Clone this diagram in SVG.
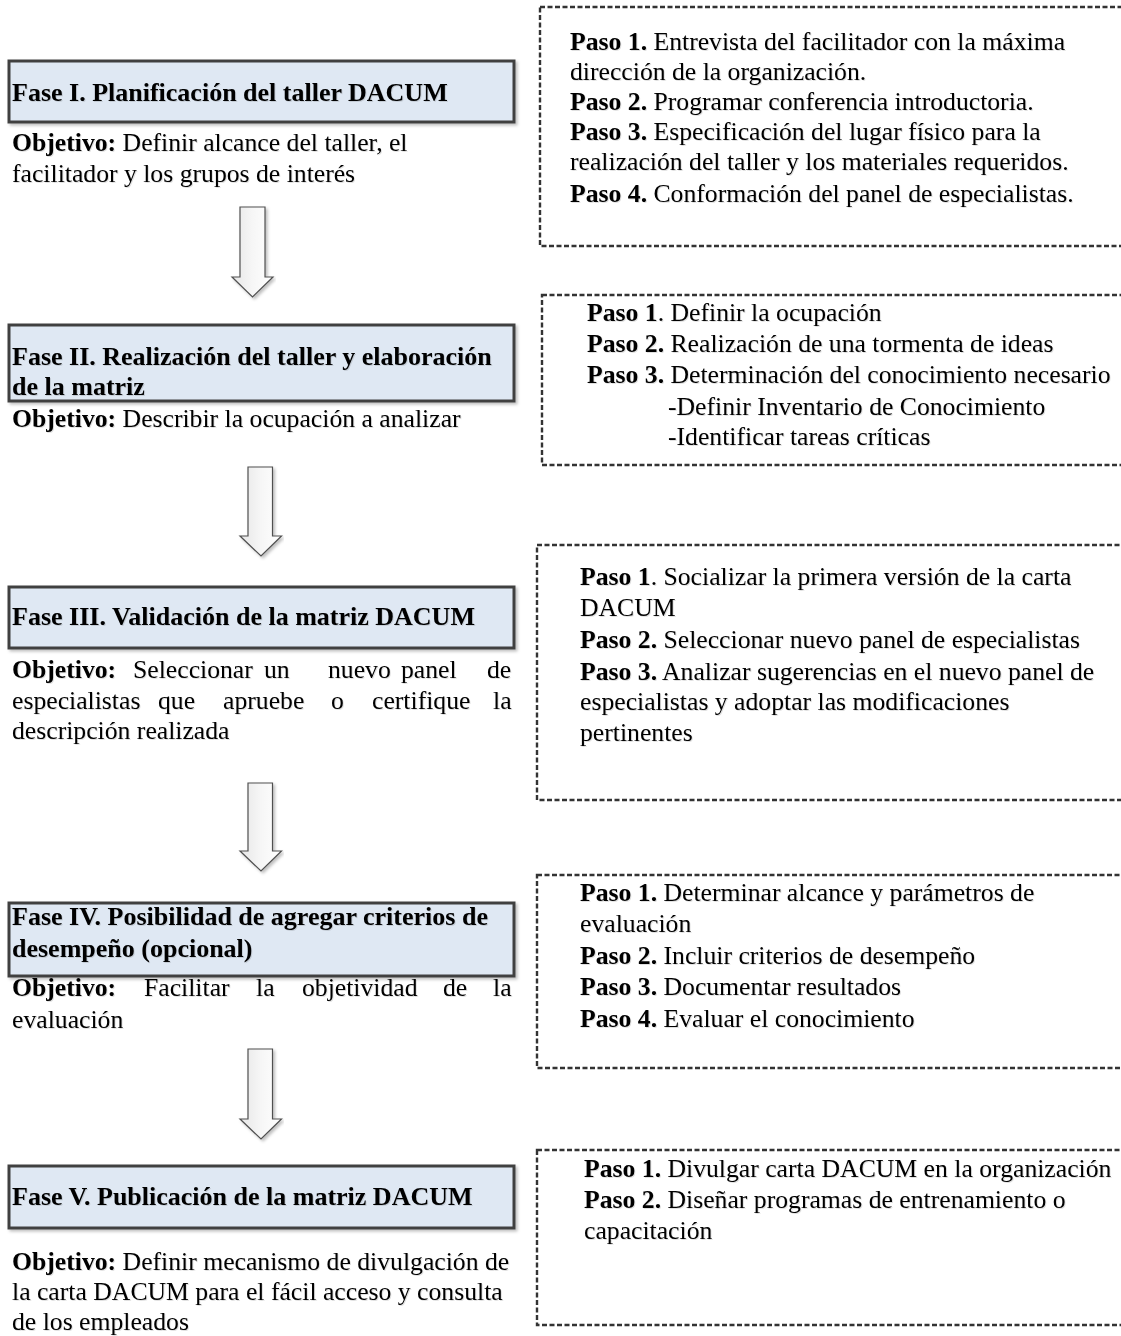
<svg xmlns="http://www.w3.org/2000/svg" width="1121" height="1336" viewBox="0 0 1121 1336">
<defs>
<style>
text{font-family:"Liberation Serif","Times New Roman",serif;font-size:25.7px;fill:#000;}
.b{font-weight:bold;}
.t{font-weight:bold;font-size:26px;}
.phase{fill:#dfe8f3;stroke:#404040;stroke-width:3;}
.steps{fill:none;stroke:#333;stroke-width:2.4;stroke-dasharray:5 2.5;}
.arrow{fill:url(#ag);stroke:#505050;stroke-width:1.2;}
</style>
<linearGradient id="ag" x1="0" y1="0" x2="1" y2="0">
<stop offset="0" stop-color="#e6e6e6"/>
<stop offset="0.5" stop-color="#f6f6f6"/>
<stop offset="1" stop-color="#ffffff"/>
</linearGradient>
<filter id="sh" x="-5%" y="-5%" width="110%" height="120%">
<feDropShadow dx="2" dy="2" stdDeviation="1.5" flood-color="#000" flood-opacity="0.25"/>
</filter>
<filter id="tsh" x="-5%" y="-20%" width="110%" height="140%">
<feDropShadow dx="1" dy="1" stdDeviation="0.7" flood-color="#000" flood-opacity="0.12"/>
</filter>
</defs>

<g id="connectors">
<path class="arrow" filter="url(#sh)" d="M240,207 H265 V277 H273 L252.5,297 L232,277 H240 Z"/>
<path class="arrow" filter="url(#sh)" d="M248,467 H272.5 V536 H281.5 L261,556 L240,536 H248 Z"/>
<path class="arrow" filter="url(#sh)" d="M248,783 H272.5 V851 H281.5 L261,871 L240,851 H248 Z"/>
<path class="arrow" filter="url(#sh)" d="M248,1049 H272.5 V1119 H281.5 L261,1139 L240,1119 H248 Z"/>
</g>

<g id="fase1">
<rect class="phase" filter="url(#sh)" x="9" y="61" width="505" height="61"/>
<g filter="url(#tsh)">
<text class="t" x="12" y="101">Fase I. Planificación del taller DACUM</text>
<text x="12" y="151"><tspan class="b">Objetivo:</tspan> Definir alcance del taller, el</text>
<text x="12" y="182">facilitador y los grupos de interés</text>
</g>
</g>

<g id="pasos1">
<rect class="steps" x="540" y="7" width="600" height="239"/>
<g filter="url(#tsh)">
<text x="570" y="50"><tspan class="b">Paso 1.</tspan> Entrevista del facilitador con la máxima</text>
<text x="570" y="80">dirección de la organización.</text>
<text x="570" y="110"><tspan class="b">Paso 2.</tspan> Programar conferencia introductoria.</text>
<text x="570" y="140"><tspan class="b">Paso 3.</tspan> Especificación del lugar físico para la</text>
<text x="570" y="170">realización del taller y los materiales requeridos.</text>
<text x="570" y="202"><tspan class="b">Paso 4.</tspan> Conformación del panel de especialistas.</text>
</g>
</g>

<g id="fase2">
<rect class="phase" filter="url(#sh)" x="9" y="325" width="505" height="76"/>
<g filter="url(#tsh)">
<text class="t" x="12" y="365">Fase II. Realización del taller y elaboración</text>
<text class="t" x="12" y="395">de la matriz</text>
<text x="12" y="427"><tspan class="b">Objetivo:</tspan> Describir la ocupación a analizar</text>
</g>
</g>

<g id="pasos2">
<rect class="steps" x="542" y="295" width="600" height="170"/>
<g filter="url(#tsh)">
<text x="587" y="321"><tspan class="b">Paso 1</tspan>. Definir la ocupación</text>
<text x="587" y="352"><tspan class="b">Paso 2.</tspan> Realización de una tormenta de ideas</text>
<text x="587" y="383"><tspan class="b">Paso 3.</tspan> Determinación del conocimiento necesario</text>
<text x="668" y="415">-Definir Inventario de Conocimiento</text>
<text x="668" y="445">-Identificar tareas críticas</text>
</g>
</g>

<g id="fase3">
<rect class="phase" filter="url(#sh)" x="9" y="587" width="505" height="61"/>
<g filter="url(#tsh)">
<text class="t" x="12" y="625">Fase III. Validación de la matriz DACUM</text>
<text y="678"><tspan class="b" x="12">Objetivo:</tspan><tspan x="133">Seleccionar</tspan><tspan x="264">un</tspan><tspan x="328">nuevo</tspan><tspan x="401">panel</tspan><tspan x="487">de</tspan></text>
<text y="709"><tspan x="12">especialistas</tspan><tspan x="158">que</tspan><tspan x="223">apruebe</tspan><tspan x="331">o</tspan><tspan x="372">certifique</tspan><tspan x="493">la</tspan></text>
<text x="12" y="739">descripción realizada</text>
</g>
</g>

<g id="pasos3">
<rect class="steps" x="537" y="545" width="600" height="255"/>
<g filter="url(#tsh)">
<text x="580" y="585"><tspan class="b">Paso 1</tspan>. Socializar la primera versión de la carta</text>
<text x="580" y="616">DACUM</text>
<text x="580" y="648"><tspan class="b">Paso 2.</tspan> Seleccionar nuevo panel de especialistas</text>
<text x="580" y="680"><tspan class="b">Paso 3.</tspan> Analizar sugerencias en el nuevo panel de</text>
<text x="580" y="710">especialistas y adoptar las modificaciones</text>
<text x="580" y="741">pertinentes</text>
</g>
</g>

<g id="fase4">
<rect class="phase" filter="url(#sh)" x="9" y="903" width="505" height="73"/>
<g filter="url(#tsh)">
<text class="t" x="12" y="925">Fase IV. Posibilidad de agregar criterios de</text>
<text class="t" x="12" y="957">desempeño (opcional)</text>
<text y="996"><tspan class="b" x="12">Objetivo:</tspan><tspan x="144">Facilitar</tspan><tspan x="256">la</tspan><tspan x="302">objetividad</tspan><tspan x="443">de</tspan><tspan x="493">la</tspan></text>
<text x="12" y="1028">evaluación</text>
</g>
</g>

<g id="pasos4">
<rect class="steps" x="537" y="875" width="600" height="193"/>
<g filter="url(#tsh)">
<text x="580" y="901"><tspan class="b">Paso 1.</tspan> Determinar alcance y parámetros de</text>
<text x="580" y="932">evaluación</text>
<text x="580" y="964"><tspan class="b">Paso 2.</tspan> Incluir criterios de desempeño</text>
<text x="580" y="995"><tspan class="b">Paso 3.</tspan> Documentar resultados</text>
<text x="580" y="1027"><tspan class="b">Paso 4.</tspan> Evaluar el conocimiento</text>
</g>
</g>

<g id="fase5">
<rect class="phase" filter="url(#sh)" x="9" y="1166" width="505" height="62"/>
<g filter="url(#tsh)">
<text class="t" x="12" y="1205">Fase V. Publicación de la matriz DACUM</text>
<text x="12" y="1270"><tspan class="b">Objetivo:</tspan> Definir mecanismo de divulgación de</text>
<text x="12" y="1300">la carta DACUM para el fácil acceso y consulta</text>
<text x="12" y="1330">de los empleados</text>
</g>
</g>

<g id="pasos5">
<rect class="steps" x="537" y="1150" width="600" height="175"/>
<g filter="url(#tsh)">
<text x="584" y="1177"><tspan class="b">Paso 1.</tspan> Divulgar carta DACUM en la organización</text>
<text x="584" y="1208"><tspan class="b">Paso 2.</tspan> Diseñar programas de entrenamiento o</text>
<text x="584" y="1239">capacitación</text>
</g>
</g>
</svg>
